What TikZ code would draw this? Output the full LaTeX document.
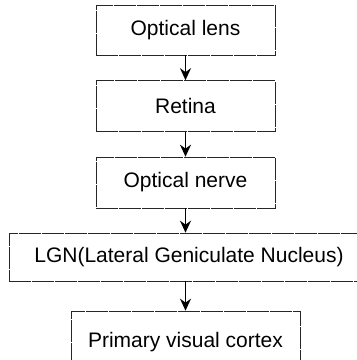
\documentclass[tikz,border=0pt]{standalone}
\usepackage{fontspec}
\setmainfont{Liberation Sans}
\usepackage{tikz}
\usetikzlibrary{positioning, arrows.meta}

\begin{document}
\begin{tikzpicture}[
  x=1pt, y=-1pt,
  block/.style={draw=black!85, line width=0.6pt, dash pattern=on 22pt off 1pt,
    inner sep=0pt, font=\fontsize{21}{25}\selectfont},
  flow/.style={-{Stealth[length=12pt, width=11pt]}, line width=1.4pt}
]
  \clip (0,0) rectangle (357,360);

  % Stages
  \node[block, minimum width=179pt, minimum height=50pt] (lens) at (185.5,30) {Optical lens};
  \node[block, minimum width=179pt, minimum height=51pt] (retina) at (185.5,106) {Retina};
  \node[block, minimum width=179pt, minimum height=51pt] (nerve) at (185.5,182.5) {Optical nerve};
  \node[block, minimum width=360pt, minimum height=48pt] (lgn) at (189,257) {LGN(Lateral Geniculate Nucleus)};
  \node[block, minimum width=229pt, minimum height=62pt] (cortex) at (185.5,342) {Primary visual cortex};

  % Connections
  \draw[flow] (lens) -- (retina);
  \draw[flow] (retina) -- (nerve);
  \draw[flow] (nerve.south) -- (nerve.south |- lgn.north);
  \draw[flow] (lgn.south -| cortex.north) -- (cortex);
\end{tikzpicture}
\end{document}
